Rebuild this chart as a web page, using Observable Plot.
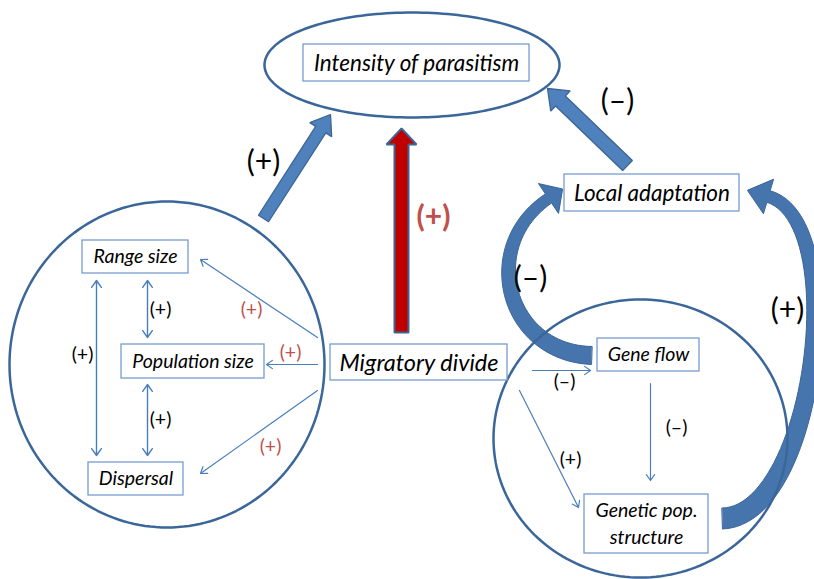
<!DOCTYPE html>
<html><head><meta charset="utf-8">
<script src="https://cdn.jsdelivr.net/npm/d3@7"></script>
<script src="https://cdn.jsdelivr.net/npm/@observablehq/plot@0.6"></script>
<style>html,body{margin:0;padding:0;background:#fff;overflow:hidden}#chart svg{display:block}</style>
</head><body><div id="chart"></div><script>
// ---- Nodes (boxes) ----
const boxLabels = ["Intensity of parasitism", "Migratory divide", "Local adaptation", "Range size", "Population size", "Dispersal", "Gene flow", "Genetic pop.\nstructure"];
const boxX1 = [303, 330, 564, 82, 121, 88, 597, 584];
const boxX2 = [529, 507, 739, 188, 264, 183, 699, 708];
const boxY1 = [44, 344, 174, 240, 344, 462, 338, 494];
const boxY2 = [81, 380, 211, 273, 378, 495, 371, 553];
const boxFont = [22.5, 23.5, 22.5, 19.5, 19.5, 19.5, 19.5, 19.5];

// ---- Ellipses (groups) ----
const ellipseName = ["parasitism", "population traits", "genetics"];
const ellipseCx = [411.5, 166.5, 640];
const ellipseCy = [64.5, 364, 438];
const ellipseRx = [147.5, 157.5, 147];
const ellipseRy = [52.5, 163, 139];

// ---- Thin one-way links ----
const linkX1 = [317, 317, 317, 532, 650, 519];
const linkY1 = [337, 364, 390, 370, 383, 390];
const linkX2 = [200, 266, 200, 590, 650, 578];
const linkY2 = [259, 364, 473, 370, 480, 507];
// ---- Thin two-way links ----
const dblX1 = [96, 147, 147];
const dblY1 = [280, 280, 384];
const dblX2 = [96, 147, 147];
const dblY2 = [455, 337, 455];

// ---- Thick straight arrows ----
const blockName = ["range->parasitism", "local adaptation->parasitism", "migratory divide->parasitism"];
const blockTailX = [263, 627, 401];
const blockTailY = [218, 165, 332];
const blockTipX = [330, 547, 401];
const blockTipY = [114, 88, 128];
const blockShaftW = [12, 14, 14];
const blockHeadW = [26, 28, 30];
const blockHeadL = [18, 18, 16];
const blockFill = ["#4f81bd", "#4f81bd", "#c00000"];
const blockStroke = ["#3d6594", "#3d6594", "#3d6594"];

// ---- Thick curved arrows (cubic control points) ----
const curveName = ["gene flow->local adaptation", "genetic structure->local adaptation"];
const curveP0 = [[591, 355], [722, 518]];
const curveP1 = [[505, 352], [815, 515]];
const curveP2 = [[478, 245], [850, 220]];
const curveP3 = [[548, 198], [768, 196]];
const curveTailW = [18, 21];
const curveHeadBaseW = [11, 12];
const curveHeadHalf = [18, 18];
const curveHeadL = [17, 22];

// ---- Sign labels ----
const signText = ["(+)", "(–)", "(+)", "(–)", "(+)", "(+)", "(+)", "(+)", "(+)", "(+)", "(+)", "(–)", "(–)", "(+)"];
const signX = [263, 617, 433, 530, 787, 82, 160, 160, 251, 290, 270, 564, 676, 570];
const signY = [163, 102, 218, 279, 311, 355, 310, 420, 310, 353, 447, 382, 428, 460];
const signSize = [30, 30, 30, 30, 30, 19.5, 19.5, 19.5, 19.5, 19.5, 19.5, 19.5, 19.5, 19.5];
const signColor = ["#000", "#000", "#c0504d", "#000", "#000", "#000", "#000", "#000", "#c0504d", "#c0504d", "#c0504d", "#000", "#000", "#000"];
const signWeight = ["normal", "normal", "bold", "normal", "normal", "normal", "normal", "normal", "normal", "normal", "normal", "normal", "normal", "normal"];

// ---- Build tables ----
const boxes = boxLabels.map((label, i) => ({label, x1: boxX1[i], x2: boxX2[i], y1: boxY1[i], y2: boxY2[i], cx: (boxX1[i] + boxX2[i]) / 2, cy: (boxY1[i] + boxY2[i]) / 2, size: boxFont[i]}));

const ellipsePts = ellipseName.flatMap((name, i) =>
  d3.range(0, 360, 2).map(a => ({name, x: ellipseCx[i] + ellipseRx[i] * Math.cos(a * Math.PI / 180), y: ellipseCy[i] + ellipseRy[i] * Math.sin(a * Math.PI / 180)})));

const links = linkX1.map((_, i) => ({x1: linkX1[i], y1: linkY1[i], x2: linkX2[i], y2: linkY2[i]}));
const dbl = dblX1.flatMap((_, i) => {
  const mx = (dblX1[i] + dblX2[i]) / 2, my = (dblY1[i] + dblY2[i]) / 2;
  return [{x1: mx, y1: my, x2: dblX1[i], y2: dblY1[i]}, {x1: mx, y1: my, x2: dblX2[i], y2: dblY2[i]}];
});

function blockPolygon(i) {
  const tx = blockTailX[i], ty = blockTailY[i], px = blockTipX[i], py = blockTipY[i];
  const len = Math.hypot(px - tx, py - ty), ux = (px - tx) / len, uy = (py - ty) / len, nx = -uy, ny = ux;
  const bx = px - ux * blockHeadL[i], by = py - uy * blockHeadL[i];
  const s = blockShaftW[i] / 2, h = blockHeadW[i] / 2;
  return [[tx + nx * s, ty + ny * s], [bx + nx * s, by + ny * s], [bx + nx * h, by + ny * h], [px, py], [bx - nx * h, by - ny * h], [bx - nx * s, by - ny * s], [tx - nx * s, ty - ny * s]]
    .map(([x, y]) => ({name: blockName[i], x, y}));
}

function curvePolygon(i) {
  const [p0, p1, p2, p3] = [curveP0[i], curveP1[i], curveP2[i], curveP3[i]];
  const B = t => [0, 1].map(k => (1 - t) ** 3 * p0[k] + 3 * (1 - t) ** 2 * t * p1[k] + 3 * (1 - t) * t * t * p2[k] + t ** 3 * p3[k]);
  const D = t => [0, 1].map(k => 3 * (1 - t) ** 2 * (p1[k] - p0[k]) + 6 * (1 - t) * t * (p2[k] - p1[k]) + 3 * t * t * (p3[k] - p2[k]));
  const ts = d3.range(0, 1.0001, 0.02);
  const left = [], right = [];
  for (const t of ts) {
    const [x, y] = B(t), [dx, dy] = D(t), l = Math.hypot(dx, dy), nx = -dy / l, ny = dx / l;
    const w = (curveTailW[i] + (curveHeadBaseW[i] - curveTailW[i]) * t) / 2;
    left.push([x + nx * w, y + ny * w]); right.push([x - nx * w, y - ny * w]);
  }
  const [ex, ey] = B(1), [dx, dy] = D(1), l = Math.hypot(dx, dy), ux = dx / l, uy = dy / l, nx = -uy, ny = ux;
  const h = curveHeadHalf[i];
  const head = [[ex + nx * h, ey + ny * h], [ex + ux * curveHeadL[i], ey + uy * curveHeadL[i]], [ex - nx * h, ey - ny * h]];
  return [...left, ...head, ...right.reverse()].map(([x, y]) => ({name: curveName[i], x, y}));
}

const signs = signText.map((text, i) => ({text, x: signX[i], y: signY[i], size: signSize[i], color: signColor[i], weight: signWeight[i]}));

const font = "Lato, 'Open Sans', sans-serif";
const marks = [];
curveName.forEach((_, i) => marks.push(Plot.line(curvePolygon(i), {x: "x", y: "y", curve: "linear-closed", fill: "#4675ae", stroke: "#3a6598", strokeWidth: 1})));
blockName.forEach((_, i) => marks.push(Plot.line(blockPolygon(i), {x: "x", y: "y", curve: "linear-closed", fill: blockFill[i], stroke: blockStroke[i], strokeWidth: i === 2 ? 2 : 1.3, strokeLinejoin: "miter"})));
marks.push(Plot.line(ellipsePts, {x: "x", y: "y", z: "name", curve: "linear-closed", stroke: "#3b6699", strokeWidth: 2.5}));
marks.push(Plot.arrow(links, {x1: "x1", y1: "y1", x2: "x2", y2: "y2", stroke: "#4a7ebb", strokeWidth: 1.2, headLength: 9, headAngle: 70}));
marks.push(Plot.arrow(dbl, {x1: "x1", y1: "y1", x2: "x2", y2: "y2", stroke: "#4a7ebb", strokeWidth: 1.4, headLength: 9, headAngle: 70}));
marks.push(Plot.rect(boxes, {x1: "x1", x2: "x2", y1: "y1", y2: "y2", fill: "white", stroke: "#779dd0", strokeWidth: 1.3}));
marks.push(Plot.text(boxes, {x: "cx", y: "cy", dy: -2, text: "label", fontSize: d => d.size, fontStyle: "italic", fontFamily: font, fill: "#000", lineHeight: 1.35}));
signs.forEach(s => marks.push(Plot.text([s], {x: "x", y: "y", dy: -1, text: "text", fontSize: s.size, fill: s.color, fontWeight: s.weight, fontFamily: font})));

const chart = Plot.plot({
  width: 814, height: 579, margin: 0,
  x: {domain: [0, 814], range: [0, 814], axis: null},
  y: {domain: [0, 579], range: [0, 579], axis: null},
  style: {background: "white", overflow: "hidden"},
  marks
});
document.getElementById("chart").appendChild(chart);
</script></body></html>
